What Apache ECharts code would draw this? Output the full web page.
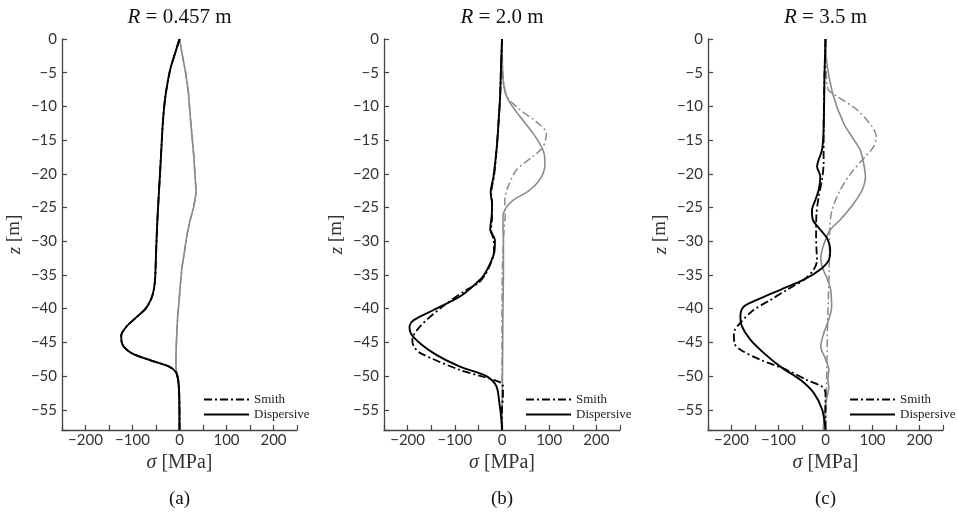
<!DOCTYPE html>
<html>
<head>
<meta charset="utf-8">
<script src="https://cdn.jsdelivr.net/npm/echarts@6/dist/echarts.min.js"></script>
<style>
  html, body { margin: 0; padding: 0; background: #fff; }
  #chart { width: 957px; height: 517px; }
</style>
</head>
<body>
<div id="chart"></div>
<script>
// Data: [sigma (MPa), z (m)]
// Panel (a) R = 0.457 m
const aDispComp = [[0,0],[-8,-1.8],[-20,-4.6],[-30,-8.5],[-35,-12],[-38,-15.5],[-41,-19.4],[-44,-23],[-47,-26.8],[-49.5,-31],[-52,-35.7],[-55,-37.3],[-60,-38.5],[-72,-40],[-92,-41.3],[-112,-42.6],[-124,-44],[-121,-45.4],[-102,-46.6],[-60,-47.7],[-22,-48.6],[-8,-49.4],[-3,-50.5],[-1,-52],[0,-55],[0,-58]];
const aDispTens = [[0,0],[5,-2],[13,-5],[19,-8],[23.5,-12],[30,-17],[35.5,-22.8],[30,-25],[22.8,-26.8],[16,-29],[10,-31.8],[5,-34],[1.5,-36.7],[-1,-39],[-4,-41.2],[-6,-44],[-7.5,-47],[-7.5,-48.8],[-4,-50],[-1.5,-52],[-0.5,-55],[0,-58]];
const aSmithComp = [[0,0],[-8,-1.8],[-20,-4.6],[-30,-8.5],[-35,-12],[-38,-15.5],[-41,-19.4],[-44,-23],[-47,-26.8],[-49.5,-31],[-52,-35.7],[-55,-37.3],[-60,-38.5],[-72,-40],[-92,-41.3],[-112,-42.6],[-124,-44],[-121,-45.4],[-102,-46.6],[-60,-47.7],[-22,-48.6],[-8,-49.4],[-3,-50.5],[-1,-52],[0,-55],[0,-58]];
const aSmithTens = [[0,0],[5,-2],[13,-5],[19,-8],[23.5,-12],[30,-17],[35.5,-22.8],[30,-25],[22.8,-26.8],[16,-29],[10,-31.8],[5,-34],[1.5,-36.7],[-1,-39],[-4,-41.2],[-6,-44],[-7.5,-47],[-7.5,-48.8],[-4,-50],[-1.5,-52],[-0.5,-55],[0,-58]];

// Panel (b) R = 2.0 m
const bDispComp = [[0,0],[-2,-4],[-4,-8.5],[-7,-12],[-11,-16],[-18,-20.4],[-24,-22.8],[-21,-24.5],[-22,-26.3],[-25,-28.3],[-15,-29.8],[-16,-31.5],[-25,-33.3],[-38,-35],[-54,-36.2],[-89,-38.2],[-145,-40.2],[-187,-41.7],[-196,-42.7],[-189,-44.1],[-145,-46.6],[-89,-48.6],[-33,-50],[-12,-51.5],[-5.5,-54],[-2,-56],[0,-58]];
const bSmithComp = [[0,0],[-2,-4],[-4,-8.5],[-7,-12],[-11,-16],[-17,-20.4],[-23,-22.8],[-21,-24.5],[-21,-26.3],[-23,-28.3],[-18,-29.8],[-17,-31.5],[-24,-33.3],[-36,-35],[-50,-36.2],[-75,-37.2],[-126,-39.7],[-173,-42.6],[-190,-44.6],[-187,-45.6],[-173,-46.6],[-89,-49.1],[-40,-50.1],[-8.5,-50.8],[2,-51.3],[2,-53],[0,-55],[0,-58]];
const bDispTens = [[0,0],[1,-4],[3,-6.6],[13,-9],[38,-11.5],[66,-14],[87,-16.5],[91,-18.4],[84,-20.4],[59,-22.4],[24,-23.9],[10,-24.9],[2,-26.3],[2,-28],[3,-30],[3,-35],[2,-40],[1.5,-45],[1,-50],[0.5,-54],[0,-58]];
const bSmithTens = [[0,0],[1,-4],[4,-6.6],[10,-8.5],[38,-10.5],[73,-12.3],[94,-14],[87,-16],[66,-17.4],[31,-19.4],[13,-21.9],[6,-23.9],[7,-25.8],[4,-28.8],[1,-33.7],[0,-40],[0,-58]];

// Panel (c) R = 3.5 m
const cDispComp = [[0,0],[-2,-5],[-4,-13.5],[-7.5,-16.5],[-14.6,-17.9],[-18,-18.9],[-11,-20.4],[-14.6,-22.4],[-21.7,-23.9],[-28.8,-25.4],[-27,-26.8],[-11,-28.3],[3,-29.5],[10,-31.3],[7,-32.8],[-11,-34.2],[-46,-35.7],[-96,-37.2],[-146,-38.7],[-174,-39.7],[-181,-41.1],[-178,-42.6],[-160,-44.6],[-131,-46.6],[-96,-48.6],[-53,-50.6],[-25,-52.5],[-7,-55],[0,-58]];
const cSmithComp = [[0,0],[-2,-5],[-4,-13.5],[-4,-18.4],[-7.5,-20.9],[-14.6,-23.4],[-19.5,-26.3],[-20,-29.3],[-19,-31.5],[-18,-32.8],[-25,-34.2],[-46,-35.7],[-82,-37.2],[-117,-38.7],[-153,-40.2],[-181,-42.1],[-195,-43.6],[-194,-45.1],[-181,-46.1],[-138,-47.6],[-82,-49.1],[-39,-50.6],[-7,-51.6],[0,-52.5],[0,-58]];
const cDispTens = [[0,0],[3,-3.6],[17,-8.5],[38.6,-12.5],[60,-14.9],[74,-16.5],[81,-18.4],[85,-20.4],[78,-22.4],[60,-24.4],[31.5,-26.8],[10,-28.3],[1.7,-29.5],[-6,-31],[-10,-32.5],[-6,-34],[4.6,-35.7],[11,-37.2],[13,-39.7],[7,-41.6],[-3.5,-43.6],[-10,-45.6],[0.7,-47.6],[7,-49.1],[5,-50.6],[7,-51.6],[-1,-54.5],[-5,-58]];
const cSmithTens = [[0,0],[1,-4],[3,-6.6],[6.6,-7.6],[24,-8.5],[67,-10.5],[99,-13],[108,-14.5],[102,-16],[85,-17.4],[53,-20],[31.5,-22.4],[13.7,-25.4],[9,-28.3],[8,-33.7],[6,-38.7],[4,-43.6],[3,-48.6],[1.5,-53.5],[0,-58]];

const panelTitles = ['0.457', '2.0', '3.5'];
const captions = ['(a)', '(b)', '(c)'];
const legendNames = ['Smith', 'Dispersive'];
const xTicks = [-200, -100, 0, 100, 200];
const zTicks = [0, -5, -10, -15, -20, -25, -30, -35, -40, -45, -50, -55];

const panels = [
  {dispComp: aDispComp, dispTens: aDispTens, smithComp: aSmithComp, smithTens: aSmithTens},
  {dispComp: bDispComp, dispTens: bDispTens, smithComp: bSmithComp, smithTens: bSmithTens},
  {dispComp: cDispComp, dispTens: cDispTens, smithComp: cSmithComp, smithTens: cSmithTens}
];

const SERIF = '"Liberation Serif", "DejaVu Serif", serif';
const SANS = 'Lato, "Open Sans", sans-serif';
const AXIS_COLOR = '#444';
const gridLefts = [62, 384, 708];
const gridWidths = [235, 236, 235];
const gridTop = 39, gridHeight = 391;
const dashDot = [8, 3, 2, 3];

const minus = v => (v < 0 ? '\u2212' + (-v) : String(v));
const toDepth = arr => arr.map(p => [p[0], -p[1]]);

const grids = [], xAxes = [], yAxes = [], series = [], legends = [], graphics = [];
panels.forEach((p, i) => {
  grids.push({left: gridLefts[i], top: gridTop, width: gridWidths[i], height: gridHeight, containLabel: false});
  xAxes.push({
    type: 'value', gridIndex: i, min: -250, max: 250, interval: 50, position: 'bottom',
    name: '{i|\u03c3} [MPa]', nameLocation: 'middle', nameGap: 21,
    nameTextStyle: {fontFamily: SERIF, fontSize: 20, color: '#333', rich: {i: {fontFamily: SERIF, fontStyle: 'italic', fontSize: 20, color: '#333'}}},
    axisLine: {onZero: false, lineStyle: {color: AXIS_COLOR, width: 1.3}},
    axisTick: {inside: true, length: 5, lineStyle: {color: AXIS_COLOR, width: 1.2}},
    axisLabel: {margin: 3, fontFamily: SANS, fontSize: 15, color: '#333',
      formatter: v => (xTicks.indexOf(v) >= 0 ? minus(v) : '')},
    splitLine: {show: false}
  });
  yAxes.push({
    type: 'value', gridIndex: i, inverse: true, min: 0, max: 58, interval: 5,
    name: '{i|z} [m]', nameLocation: 'middle', nameGap: 38, nameRotate: 90,
    nameTextStyle: {fontFamily: SERIF, fontSize: 19, color: '#333', rich: {i: {fontFamily: SERIF, fontStyle: 'italic', fontSize: 19, color: '#333'}}},
    axisLine: {onZero: false, lineStyle: {color: AXIS_COLOR, width: 1.3}},
    axisTick: {inside: true, length: 5, lineStyle: {color: AXIS_COLOR, width: 1.2}},
    axisLabel: {margin: 5, fontFamily: SANS, fontSize: 15, color: '#333',
      formatter: v => (zTicks.indexOf(-v) >= 0 ? minus(-v) : '')},
    splitLine: {show: false}
  });
  const base = {type: 'line', xAxisIndex: i, yAxisIndex: i, showSymbol: false, symbol: 'none', smooth: 0.3, animation: false, silent: true};
  series.push(Object.assign({}, base, {name: 'Smith (tension)', data: toDepth(p.smithTens), smooth: i === 0 ? false : 0.3,
    lineStyle: {color: '#8a8a8a', width: 1.5, type: dashDot}, itemStyle: {color: '#8a8a8a'}}));
  series.push(Object.assign({}, base, {name: 'Dispersive (tension)', data: toDepth(p.dispTens), smooth: i === 0 ? false : 0.3,
    lineStyle: {color: '#8a8a8a', width: 1.6, type: 'solid'}, itemStyle: {color: '#8a8a8a'}}));
  series.push(Object.assign({}, base, {name: 'Smith', data: toDepth(p.smithComp),
    lineStyle: {color: '#000', width: 1.8, type: dashDot}, itemStyle: {color: '#000'}}));
  series.push(Object.assign({}, base, {name: 'Dispersive', data: toDepth(p.dispComp),
    lineStyle: {color: '#000', width: 1.9, type: 'solid'}, itemStyle: {color: '#000'}}));
  legends.push({
    data: legendNames, orient: 'vertical', left: gridLefts[i] + 141, top: 393,
    itemWidth: 45, itemHeight: 14, itemGap: 2, selectedMode: false, padding: 0,
    itemStyle: {opacity: 0},
    textStyle: {fontFamily: SERIF, fontSize: 13, color: '#222'}
  });
  const cx = gridLefts[i] + gridWidths[i] / 2;
  graphics.push({
    type: 'text',
    style: {text: '{i|R} = ' + panelTitles[i] + ' m', x: cx, y: 17, textAlign: 'center', textVerticalAlign: 'middle',
      fontFamily: SERIF, fontSize: 21, fill: '#111',
      rich: {i: {fontFamily: SERIF, fontStyle: 'italic', fontSize: 21, fill: '#111'}}}
  });
  graphics.push({
    type: 'text',
    style: {text: captions[i], x: cx, y: 499, textAlign: 'center', textVerticalAlign: 'middle',
      fontFamily: SERIF, fontSize: 19, fill: '#111'}
  });
});

const chart = echarts.init(document.getElementById('chart'), null, {renderer: 'canvas'});
chart.setOption({
  animation: false,
  backgroundColor: '#fff',
  grid: grids, xAxis: xAxes, yAxis: yAxes, series: series, legend: legends,
  graphic: {elements: graphics}
});
</script>
</body>
</html>
